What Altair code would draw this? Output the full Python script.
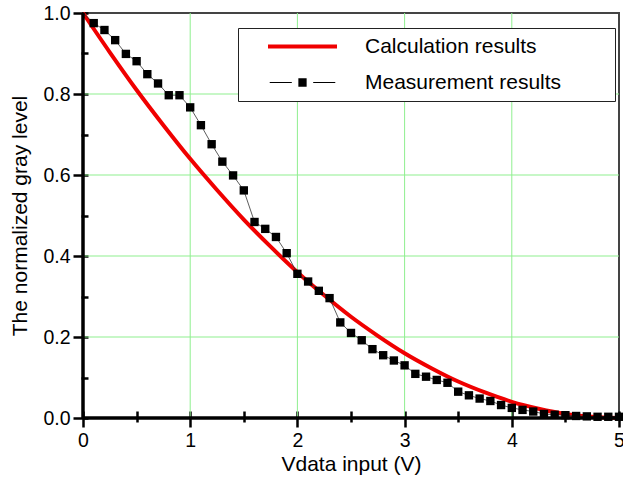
import altair as alt
import pandas as pd

# Measurement results (Vdata in V, normalized gray level)
meas_v = [0.0, 0.1, 0.2, 0.3, 0.4, 0.5, 0.6, 0.7, 0.8, 0.9,
          1.0, 1.1, 1.2, 1.3, 1.4, 1.5, 1.6, 1.7, 1.8, 1.9,
          2.0, 2.1, 2.2, 2.3, 2.4, 2.5, 2.6, 2.7, 2.8, 2.9,
          3.0, 3.1, 3.2, 3.3, 3.4, 3.5, 3.6, 3.7, 3.8, 3.9,
          4.0, 4.1, 4.2, 4.3, 4.4, 4.5, 4.6, 4.7, 4.8, 4.9, 5.0]
meas_g = [1.0, 0.975, 0.958, 0.933, 0.899, 0.881, 0.849, 0.826, 0.797, 0.797,
          0.767, 0.723, 0.676, 0.633, 0.599, 0.562, 0.484, 0.467, 0.447, 0.407,
          0.356, 0.337, 0.314, 0.296, 0.236, 0.210, 0.192, 0.170, 0.155, 0.142,
          0.130, 0.109, 0.102, 0.094, 0.087, 0.065, 0.056, 0.048, 0.042, 0.032,
          0.025, 0.020, 0.016, 0.010, 0.008, 0.007, 0.005, 0.004, 0.003, 0.003, 0.003]

# Calculation results
calc_v = [0.0, 0.25, 0.5, 0.75, 1.0, 1.25, 1.5, 1.75, 2.0, 2.25, 2.5,
          2.75, 3.0, 3.25, 3.5, 3.75, 4.0, 4.25, 4.5, 4.75, 5.0]
calc_g = [1.0, 0.903, 0.81, 0.723, 0.64, 0.563, 0.49, 0.423, 0.36, 0.303, 0.25,
          0.203, 0.16, 0.123, 0.09, 0.063, 0.04, 0.023, 0.01, 0.003, 0.0]

series_names = ["Calculation results", "Measurement results"]
series_colors = ["#f00000", "black"]
series_shapes = [
    "M-1,-0.058H1V0.058H-1Z",
    "M-0.95,-0.017H-0.31V0.017H-0.95Z M-0.12,-0.12H0.12V0.12H-0.12Z M0.31,-0.017H0.95V0.017H0.31Z",
]

grid_x = [1, 2, 3, 4]
grid_y = [0.2, 0.4, 0.6, 0.8]
x_ticks = [0, 0.5, 1, 1.5, 2, 2.5, 3, 3.5, 4, 4.5, 5]
y_ticks = [0, 0.1, 0.2, 0.3, 0.4, 0.5, 0.6, 0.7, 0.8, 0.9, 1.0]

FONT = "Liberation Sans"
GRID = "#8fef8f"

meas_df = pd.DataFrame({"v": meas_v, "g": meas_g})
calc_df = pd.DataFrame({"v": calc_v, "g": calc_g})
leg_df = pd.DataFrame({"series": series_names, "v": [calc_v[0], meas_v[0]], "g": [calc_g[0], meas_g[0]]})

xs = alt.Scale(domain=[0, 5], nice=False, zero=False)
ys = alt.Scale(domain=[0, 1], nice=False, zero=False)

x_axis = alt.Axis(
    values=x_ticks,
    labelExpr="datum.value % 1 == 0 ? format(datum.value, 'd') : ''",
    tickSize={"condition": {"test": "datum.value % 1 == 0", "value": 16}, "value": 11},
    tickWidth=2.5, tickColor="black", offset=-7, domain=False, grid=False,
    labelFont=FONT, labelFontSize=19.5, labelColor="black", labelPadding=4,
    labelFlush=False, labelOverlap=False,
    title="Vdata input (V)", titleFont=FONT, titleFontSize=21,
    titleFontWeight="normal", titleColor="black", titlePadding=4,
)
y_axis = alt.Axis(
    values=y_ticks,
    labelExpr="round(datum.value * 10) % 2 == 0 ? format(datum.value, '.1f') : ''",
    tickSize={"condition": {"test": "round(datum.value * 10) % 2 == 0", "value": 15}, "value": 7},
    tickWidth=2.5, tickColor="black", offset=-5, domain=False, grid=False,
    labelFont=FONT, labelFontSize=19.5, labelColor="black", labelPadding=3,
    labelFlush=False, labelOverlap=False,
    title="The normalized gray level", titleFont=FONT, titleFontSize=21,
    titleFontWeight="normal", titleColor="black", titlePadding=12,
)

one = alt.Data(values=[{}])

grid_v = alt.Chart(pd.DataFrame({"gx": grid_x})).mark_rule(color=GRID, strokeWidth=1).encode(
    x=alt.X("gx:Q", scale=xs, axis=x_axis)
)
grid_h = alt.Chart(pd.DataFrame({"gy": grid_y})).mark_rule(color=GRID, strokeWidth=1).encode(
    y=alt.Y("gy:Q", scale=ys, axis=y_axis)
)

calc_line = alt.Chart(calc_df).mark_line(color="#f00000", strokeWidth=4, interpolate="monotone").encode(
    x=alt.X("v:Q", scale=xs, axis=x_axis),
    y=alt.Y("g:Q", scale=ys, axis=y_axis),
)

meas_line = alt.Chart(meas_df).mark_line(color="#333333", strokeWidth=0.8).encode(
    x=alt.X("v:Q", scale=xs, axis=x_axis),
    y=alt.Y("g:Q", scale=ys, axis=y_axis),
)
meas_pts = alt.Chart(meas_df).transform_filter("datum.v > 0").mark_point(
    shape="square", filled=True, color="black", size=70, opacity=1
).encode(
    x=alt.X("v:Q", scale=xs, axis=x_axis),
    y=alt.Y("g:Q", scale=ys, axis=y_axis),
)

left_axis = alt.Chart(one).mark_rule(color="black", strokeWidth=3.5).encode(
    x=alt.X(datum=0, scale=xs, axis=x_axis),
    y=alt.Y(datum=0, scale=ys, axis=y_axis),
    y2=alt.Y2(datum=1),
)
bottom_axis = alt.Chart(one).mark_rule(color="black", strokeWidth=3.5).encode(
    y=alt.Y(datum=0, scale=ys, axis=y_axis),
    x=alt.X(datum=0, scale=xs, axis=x_axis),
    x2=alt.X2(datum=5),
)

# blank (non-whitespace) padding glyphs to widen the legend box on the right
blank = "\u2800" * 3
legend_layer = alt.Chart(leg_df).mark_point(filled=True, fillOpacity=0, strokeOpacity=0).encode(
    x=alt.X("v:Q", scale=xs, axis=x_axis),
    y=alt.Y("g:Q", scale=ys, axis=y_axis),
    color=alt.Color(
        "series:N",
        scale=alt.Scale(domain=series_names, range=series_colors),
        legend=alt.Legend(
            title=None, orient="none", legendX=155, legendY=15, direction="vertical",
            fillColor="white", strokeColor="#222222", padding=8,
            labelFont=FONT, labelFontSize=21, labelColor="black",
            labelExpr="datum.label + '" + blank + "'",
            symbolSize=4761, symbolStrokeWidth=0, symbolOffset=22, labelOffset=28,
            rowPadding=14, clipHeight=21, labelLimit=500,
        ),
    ),
    shape=alt.Shape(
        "series:N",
        scale=alt.Scale(domain=series_names, range=series_shapes),
    ),
)

chart = alt.layer(
    grid_v, grid_h, calc_line, meas_line, meas_pts, left_axis, bottom_axis, legend_layer
).properties(
    width=536, height=405,
    autosize=alt.AutoSizeParams(type="none"),
    padding={"left": 83, "top": 13, "right": 4, "bottom": 68},
    background="white",
).configure_view(
    stroke="#444444", strokeWidth=2
)

chart.save("out.html", embed_options={"renderer": "svg", "actions": False})
